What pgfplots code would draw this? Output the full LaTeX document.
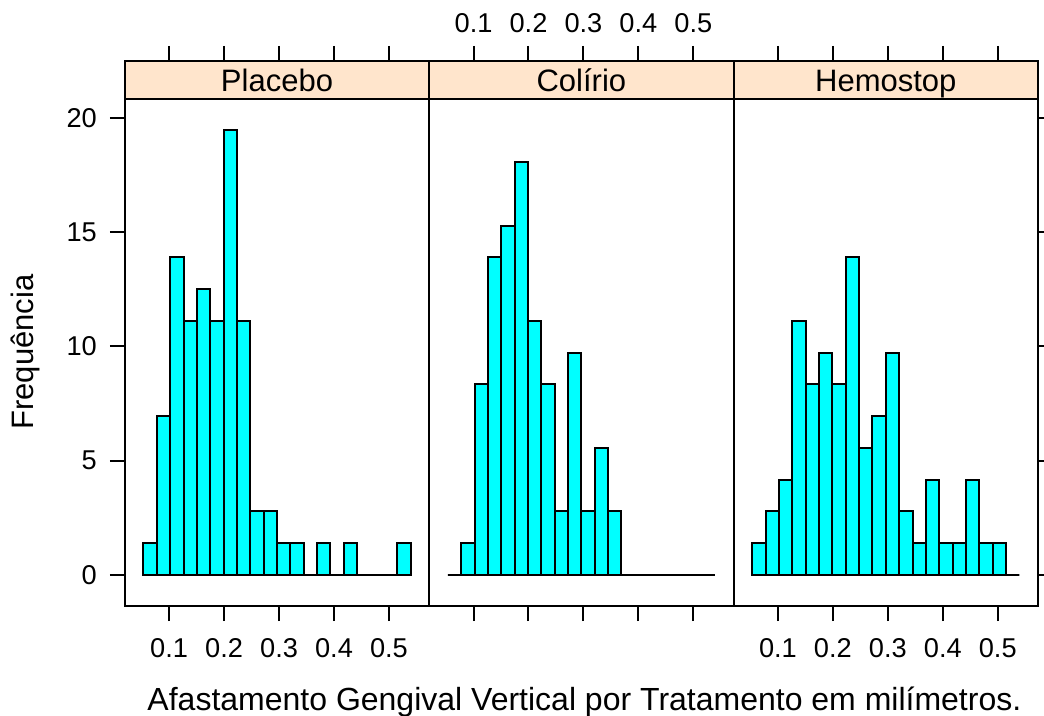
\documentclass[border=0pt]{standalone}
\usepackage{fontspec}
\setmainfont{Liberation Sans}
\usepackage{pgfplots}
\usepackage{pgfplotstable}
\pgfplotsset{compat=1.18}
\definecolor{stripbg}{HTML}{FFE5CC}
\definecolor{barcol}{HTML}{00FFFF}

% breaks and percentages (72 observations per treatment)
\pgfplotstableread{
x       placebo  colirio  hemostop
0.0533  1.3889   0        1.3889
0.0776  6.9444   1.3889   2.7778
0.1019  13.8889  8.3333   4.1667
0.1262  11.1111  13.8889  11.1111
0.1505  12.5     15.2778  8.3333
0.1748  11.1111  18.0556  9.7222
0.1991  19.4444  11.1111  8.3333
0.2234  11.1111  8.3333   13.8889
0.2477  2.7778   2.7778   5.5556
0.2720  2.7778   9.7222   6.9444
0.2963  1.3889   2.7778   9.7222
0.3206  1.3889   5.5556   2.7778
0.3449  0        2.7778   1.3889
0.3692  1.3889   0        4.1667
0.3935  0        0        1.3889
0.4178  1.3889   0        1.3889
0.4421  0        0        4.1667
0.4664  0        0        1.3889
0.4907  0        0        1.3889
0.5150  1.3889   0        0
0.5393  0        0        0
}\histdata

\newcommand{\tlfont}{\fontsize{13.6bp}{16bp}\selectfont}

\pgfplotsset{panel/.style={
  width=152.2bp, height=272.5bp, scale only axis,
  anchor=south west,
  xmin=0.0193, xmax=0.5733, ymin=-1.361, ymax=22.48,
  axis on top,
  axis line style={line width=1bp, black},
  tick style={line width=1bp, black},
  tick align=outside, major tick length=7.5bp,
  xtick={0.1,0.2,0.3,0.4,0.5}, xtick pos=both,
  ytick={0,5,10,15,20},
  tick label style={font=\tlfont},
  xticklabel={\tlfont\pgfmathprintnumber[fixed,assume math mode=true]{\tick}},
  yticklabel={\tlfont\pgfmathprintnumber[fixed,assume math mode=true]{\tick}},
  yticklabel shift=3bp,
  hist/.style={ybar interval, fill=barcol, draw=black, line width=1bp},
}}

\newcommand{\strip}[1]{%
  \fill[stripbg] (axis cs:0.0193,20.806) rectangle (axis cs:0.5733,22.48);
  \draw[line width=1bp] (axis cs:0.0193,20.806) -- (axis cs:0.5733,20.806);
  \node[anchor=base, font=\fontsize{15.5bp}{18bp}\selectfont, inner sep=0pt] at (axis cs:0.2963,21.14) {#1};
}

\begin{document}
\begin{tikzpicture}
\path[use as bounding box] (0,0) rectangle (522bp,358bp);

\begin{axis}[panel, at={(62.4bp,55bp)}, xticklabel pos=lower, ytick pos=left, xticklabel shift=5bp]
  \strip{Placebo}
  \addplot[hist] table[x=x, y=placebo] {\histdata};
\end{axis}

\begin{axis}[panel, at={(214.6bp,55bp)}, xticklabel pos=upper, ytick=\empty, xticklabel shift=3bp]
  \strip{Colírio}
  \addplot[hist] table[x=x, y=colirio] {\histdata};
\end{axis}

\begin{axis}[panel, at={(366.8bp,55bp)}, xticklabel pos=lower, ytick pos=right, yticklabel={\relax}, xticklabel shift=5bp]
  \strip{Hemostop}
  \addplot[hist] table[x=x, y=hemostop] {\histdata};
\end{axis}

\node[anchor=base, font=\fontsize{16bp}{19bp}\selectfont, inner sep=0pt] at (292.2bp,3bp)
  {Afastamento Gengival Vertical por Tratamento em milímetros.};
\node[rotate=90, anchor=base, font=\fontsize{15.5bp}{18bp}\selectfont, inner sep=0pt] at (16.65bp,182bp)
  {Frequência};
\end{tikzpicture}
\end{document}
